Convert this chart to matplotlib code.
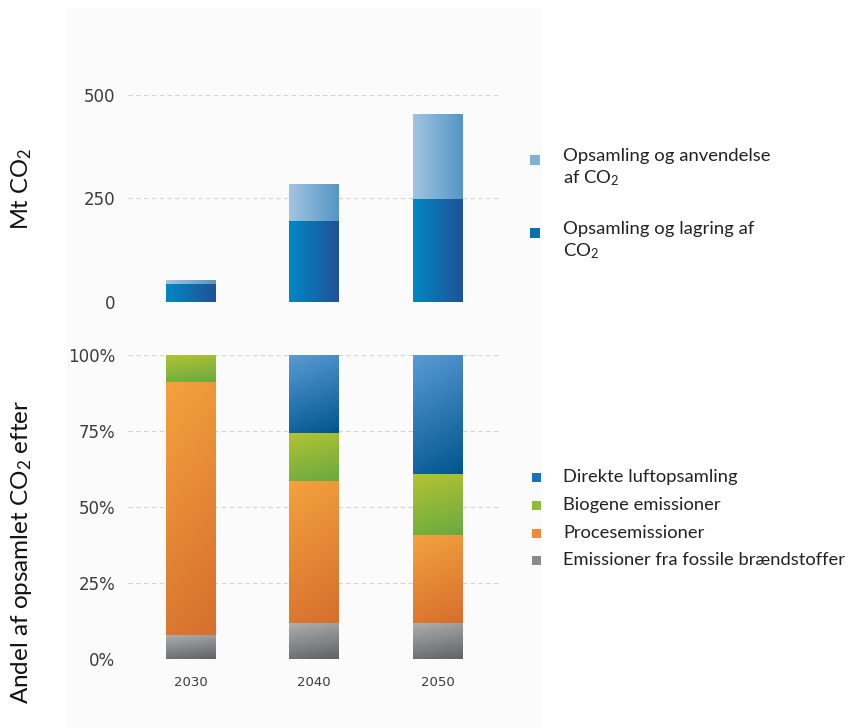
import numpy as np
import matplotlib
matplotlib.use("Agg")
import matplotlib.pyplot as plt
import matplotlib.patches as mpatches
from matplotlib.colors import to_rgb

plt.rcParams['mathtext.fontset'] = 'custom'
plt.rcParams['mathtext.rm'] = 'Lato'
plt.rcParams['mathtext.it'] = 'Lato:italic'
plt.rcParams['mathtext.bf'] = 'Lato:bold'

# ---------------- data ----------------
years = ['2030', '2040', '2050']

# Mt CO2 captured
ccs = [43, 195, 247]      # Opsamling og lagring af CO2
ccu = [8, 89, 204]        # Opsamling og anvendelse af CO2

# share of captured CO2 by source
fossil = [0.08, 0.12, 0.12]
process = [0.83, 0.465, 0.29]
biogenic = [0.09, 0.16, 0.20]
dac = [0.00, 0.255, 0.39]

top_labels = ['Opsamling og anvendelse\naf CO$_{\\mathrm{2}}$',
              'Opsamling og lagring af\nCO$_{\\mathrm{2}}$']
bot_labels = ['Direkte luftopsamling', 'Biogene emissioner',
              'Procesemissioner', 'Emissioner fra fossile brændstoffer']

W, H = 848, 728
fig = plt.figure(figsize=(W / 100, H / 100), dpi=100)


def fx(px):
    return px / W


def fy(py):
    return 1 - py / H


# faint background panel
fig.patches.append(mpatches.Rectangle((fx(67), fy(728)), fx(542) - fx(67), fy(8) - fy(728),
                                      transform=fig.transFigure, facecolor='#fbfbfb',
                                      edgecolor='none', zorder=-10))


def paint(ax, patch, c1, c2, mode):
    # paint a gradient image onto a bar patch
    x0, y0 = patch.get_x(), patch.get_y()
    w, h = patch.get_width(), patch.get_height()
    if h <= 0:
        return
    n = 80
    u = np.linspace(0, 1, n)
    if mode == 'h':
        t = np.tile(u, (n, 1))
    else:
        # mostly vertical (top light -> bottom dark), a bit diagonal
        t = 0.8 * (1 - u)[:, None] + 0.2 * u[None, :]
        t = (t - t.min()) / (t.max() - t.min())
    a, b = np.array(to_rgb(c1)), np.array(to_rgb(c2))
    img = a[None, None, :] * (1 - t[..., None]) + b[None, None, :] * t[..., None]
    ax.imshow(img, extent=[x0, x0 + w, y0, y0 + h], origin='lower', aspect='auto',
              interpolation='bilinear', zorder=3)


def style(ax):
    for s in ax.spines.values():
        s.set_visible(False)
    ax.set_facecolor('none')
    ax.tick_params(length=0, labelsize=12, labelcolor='#3c3c3c', pad=9)
    ax.yaxis.grid(True, color='#d4d4d4', linestyle=(0, (4, 3)), linewidth=0.8)
    ax.set_axisbelow(True)


x = np.arange(len(years))
bw = 0.4

# ---------------- top chart ----------------
ax1 = fig.add_axes([fx(128), fy(301.7), fx(502) - fx(128), fy(94.5) - fy(301.7)])
style(ax1)
b1 = ax1.bar(x, ccs, bw, color='#0a6fb0', zorder=2)
b2 = ax1.bar(x, ccu, bw, bottom=ccs, color='#7fb0d8', zorder=2)
for p in b1:
    paint(ax1, p, '#0088c4', '#205296', 'h')
for p in b2:
    paint(ax1, p, '#a3c4e2', '#5496c4', 'h')
ax1.set_xlim(-0.504, 2.516)
ax1.set_ylim(0, 500)
ax1.set_yticks([0, 250, 500])
ax1.set_yticklabels(['0', '250', '500'])
ax1.set_xticks([])

# ---------------- bottom chart ----------------
ax2 = fig.add_axes([fx(128), fy(659.3), fx(502) - fx(128), fy(355) - fy(659.3)])
style(ax2)
bot = np.zeros(3)
segs = [(fossil, '#b0b0b0', '#5f6266', '#8a8a8a'),
        (process, '#f4a23e', '#d66e2d', '#ee8a3a'),
        (biogenic, '#b4c332', '#69aa41', '#8cbc3c'),
        (dac, '#5a9bd4', '#00558f', '#1a73b8')]
for vals, c1, c2, cm in segs:
    bars = ax2.bar(x, vals, bw, bottom=bot, color=cm, zorder=2)
    for p in bars:
        paint(ax2, p, c1, c2, 'v')
    bot = bot + np.array(vals)
ax2.set_xlim(-0.504, 2.516)
ax2.set_ylim(0, 1)
ax2.set_yticks([0, 0.25, 0.5, 0.75, 1])
ax2.set_yticklabels(['0%', '25%', '50%', '75%', '100%'])
ax2.set_xticks(x)
ax2.set_xticklabels(years)
ax2.tick_params(axis='x', labelsize=9.5, pad=12)

# ---------------- axis titles ----------------
fig.text(fx(22), fy(189), 'Mt CO$_{\\mathrm{2}}$', rotation=90, ha='center', va='center',
         family='Lato', fontsize=17, color='#111111')
fig.text(fx(22), fy(552), 'Andel af opsamlet CO$_{\\mathrm{2}}$ efter', rotation=90,
         ha='center', va='center', family='Lato', fontsize=17.5, color='#111111')

# ---------------- legends ----------------
top_marker = ['#7fb0d8', '#0a6fb0']
top_y = [160, 233]
for lab, c, yy in zip(top_labels, top_marker, top_y):
    fig.patches.append(mpatches.Rectangle((fx(530), fy(yy + 5)), fx(10), 10 / H,
                                          transform=fig.transFigure, facecolor=c,
                                          edgecolor='none'))
    fig.text(fx(563), fy(yy - 12), lab, ha='left', va='top', family='Lato',
             fontsize=13.3, color='#222222', linespacing=1.3)

bot_marker = ['#1a73b8', '#8cbc3c', '#ee8a3a', '#8a8a8a']
bot_y = [477, 505, 533, 560]
for lab, c, yy in zip(bot_labels, bot_marker, bot_y):
    fig.patches.append(mpatches.Rectangle((fx(532), fy(yy + 4.5)), fx(9), 9 / H,
                                          transform=fig.transFigure, facecolor=c,
                                          edgecolor='none'))
    fig.text(fx(563), fy(yy), lab, ha='left', va='center', family='Lato',
             fontsize=13.2, color='#222222')

fig.savefig('out.png', dpi=100, facecolor='white')
